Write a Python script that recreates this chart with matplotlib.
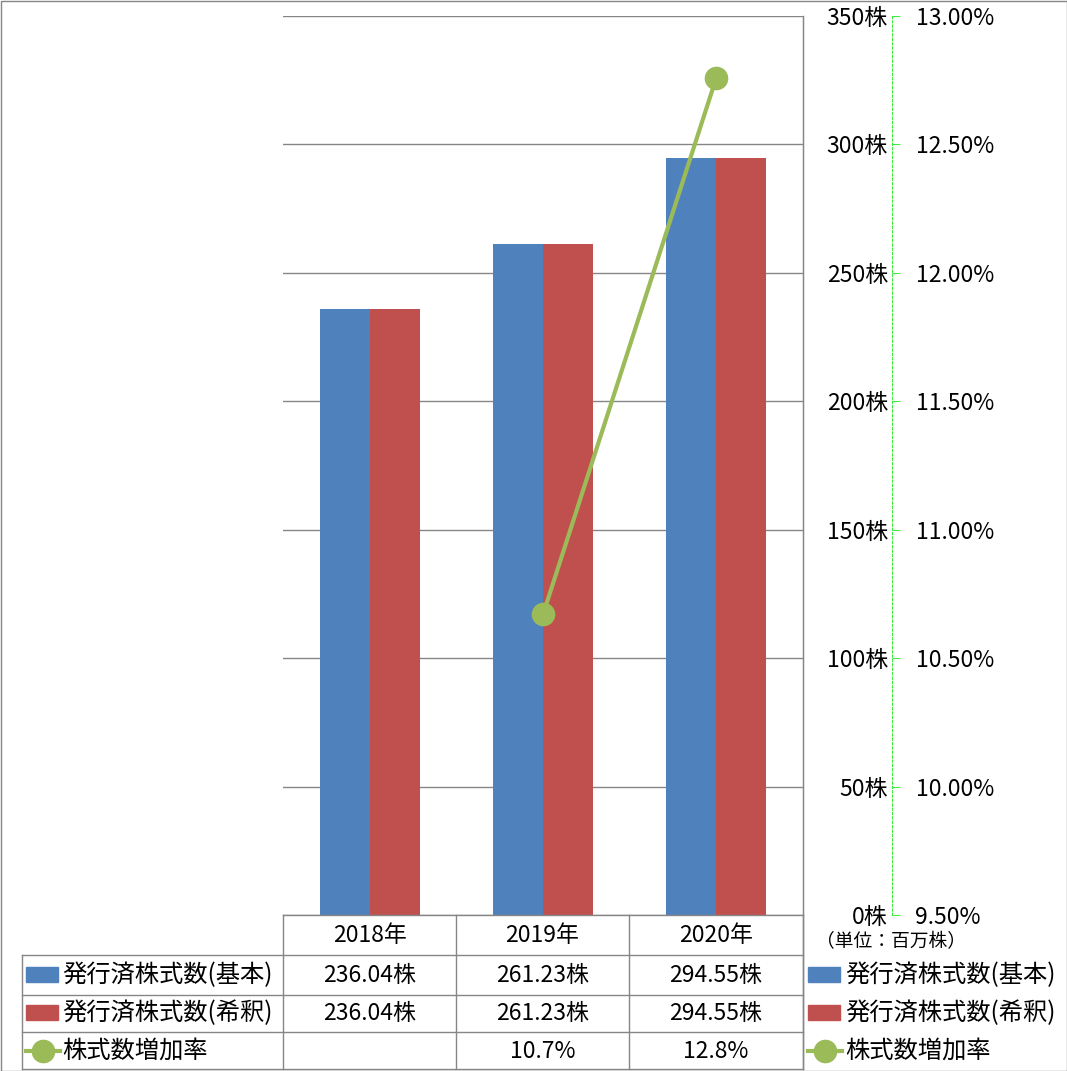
import matplotlib.pyplot as plt
import numpy as np
from matplotlib.lines import Line2D
from matplotlib.patches import Rectangle

plt.rcParams['font.family'] = ['Noto Sans CJK JP', 'DejaVu Sans']

years = ["2018年", "2019年", "2020年"]
basic = [236.04, 261.23, 294.55]
diluted = [236.04, 261.23, 294.55]
growth = [None, 10.67, 12.76]
series_names = ["発行済株式数(基本)", "発行済株式数(希釈)", "株式数増加率"]
blue = "#4F81BD"
red = "#C0504D"
green = "#9BBB59"
grid_c = "#868686"

W, H = 1067, 1071
fig = plt.figure(figsize=(W / 100, H / 100), dpi=100)

def fx(x):
    return x / W

def fy(y):
    return 1 - y / H

# plot area in pixels
L, R, T, B = 283, 803, 16, 915
ax = fig.add_axes([fx(L), fy(B), fx(R - L), (B - T) / H])
x = np.arange(len(years))
bw = 0.289
ax.bar(x - bw / 2, basic, bw, color=blue, zorder=2)
ax.bar(x + bw / 2, diluted, bw, color=red, zorder=2)
ax.set_xlim(-0.5, 2.5)
ax.set_ylim(0, 350)
ax.set_yticks(np.arange(0, 351, 50))
ax.set_yticklabels([f"{v}株" for v in range(0, 351, 50)])
ax.set_xticks([])
ax.grid(axis='y', color=grid_c, linewidth=1, zorder=0)
for s in ['left', 'top', 'bottom']:
    ax.spines[s].set_visible(False)
ax.spines['right'].set_color(grid_c)

ax2 = ax.twinx()
ax.yaxis.tick_right()
ax.tick_params(axis='y', length=0, pad=61, labelsize=16.5)
for lab in ax.get_yticklabels():
    lab.set_horizontalalignment('right')

gx = [1, 2]
gy = [g for g in growth if g is not None]
ax2.plot(gx, gy, color=green, linewidth=3, marker='o', markersize=16, zorder=5)
ax2.set_ylim(9.5, 13.0)
ax2.set_yticks(np.arange(9.5, 13.01, 0.5))
ax2.set_yticklabels([f"{v:.2f}%" for v in np.arange(9.5, 13.01, 0.5)])
for s in ['left', 'top', 'bottom']:
    ax2.spines[s].set_visible(False)
ax2.spines['right'].set_position(('outward', 64))
ax2.spines['right'].set_color('#33ee33')
ax2.spines['right'].set_linestyle((0, (2.5, 2)))
ax2.spines['right'].set_linewidth(0.7)
ax2.tick_params(axis='y', color='#33ee33', length=6, width=0.7, pad=11, labelsize=16.5)

# table lines
def hline(y, x0, x1):
    fig.add_artist(Line2D([fx(x0), fx(x1)], [fy(y), fy(y)], color=grid_c, linewidth=1))

def vline(x, y0, y1):
    fig.add_artist(Line2D([fx(x), fx(x)], [fy(y0), fy(y1)], color=grid_c, linewidth=1))

rows_y = [915, 955, 995, 1032, 1069]
col_x = [283, 456, 629, 803]
hline(915, 283, 803)
for y in rows_y[1:]:
    hline(y, 22, 803)
vline(22, 955, 1069)
for cx in col_x:
    vline(cx, 915, 1069)
vline(803, 16, 1069)

# header
for i, yr in enumerate(years):
    fig.text(fx((col_x[i] + col_x[i + 1]) / 2), fy(936), yr, ha='center', va='center', fontsize=16.5)

rows = [
    [f"{v:.2f}株" for v in basic],
    [f"{v:.2f}株" for v in diluted],
    ["" if g is None else f"{g:.1f}%" for g in growth],
]
row_c = [975, 1013, 1051]
colors = [blue, red, green]

def legend_key(x0, yc, k):
    if k < 2:
        fig.add_artist(Rectangle((fx(x0), fy(yc + 7)), 32 / W, 15 / H,
                                 color=colors[k], transform=fig.transFigure))
    else:
        fig.add_artist(Line2D([fx(x0), fx(x0 + 34)], [fy(yc), fy(yc)], color=green,
                              linewidth=3, transform=fig.transFigure))
        fig.add_artist(Line2D([fx(x0 + 17)], [fy(yc)], color=green, marker='o',
                              markersize=16, linestyle='none', transform=fig.transFigure))

for k in range(3):
    yc = row_c[k]
    for i, t in enumerate(rows[k]):
        fig.text(fx((col_x[i] + col_x[i + 1]) / 2), fy(yc), t, ha='center', va='center', fontsize=16.5)
    legend_key(26, yc, k)
    fig.text(fx(62), fy(yc), series_names[k], ha='left', va='center', fontsize=17.5)
    legend_key(808, yc, k)
    fig.text(fx(845), fy(yc), series_names[k], ha='left', va='center', fontsize=17.5)

fig.text(fx(816), fy(942), "（単位：百万株）", ha='left', va='center', fontsize=13.5)

fig.add_artist(Rectangle((0.5 / W, 0.5 / H), (W - 1) / W, (H - 1) / H, fill=False,
                         edgecolor=grid_c, linewidth=1, transform=fig.transFigure))

fig.savefig("out.png", dpi=100)
